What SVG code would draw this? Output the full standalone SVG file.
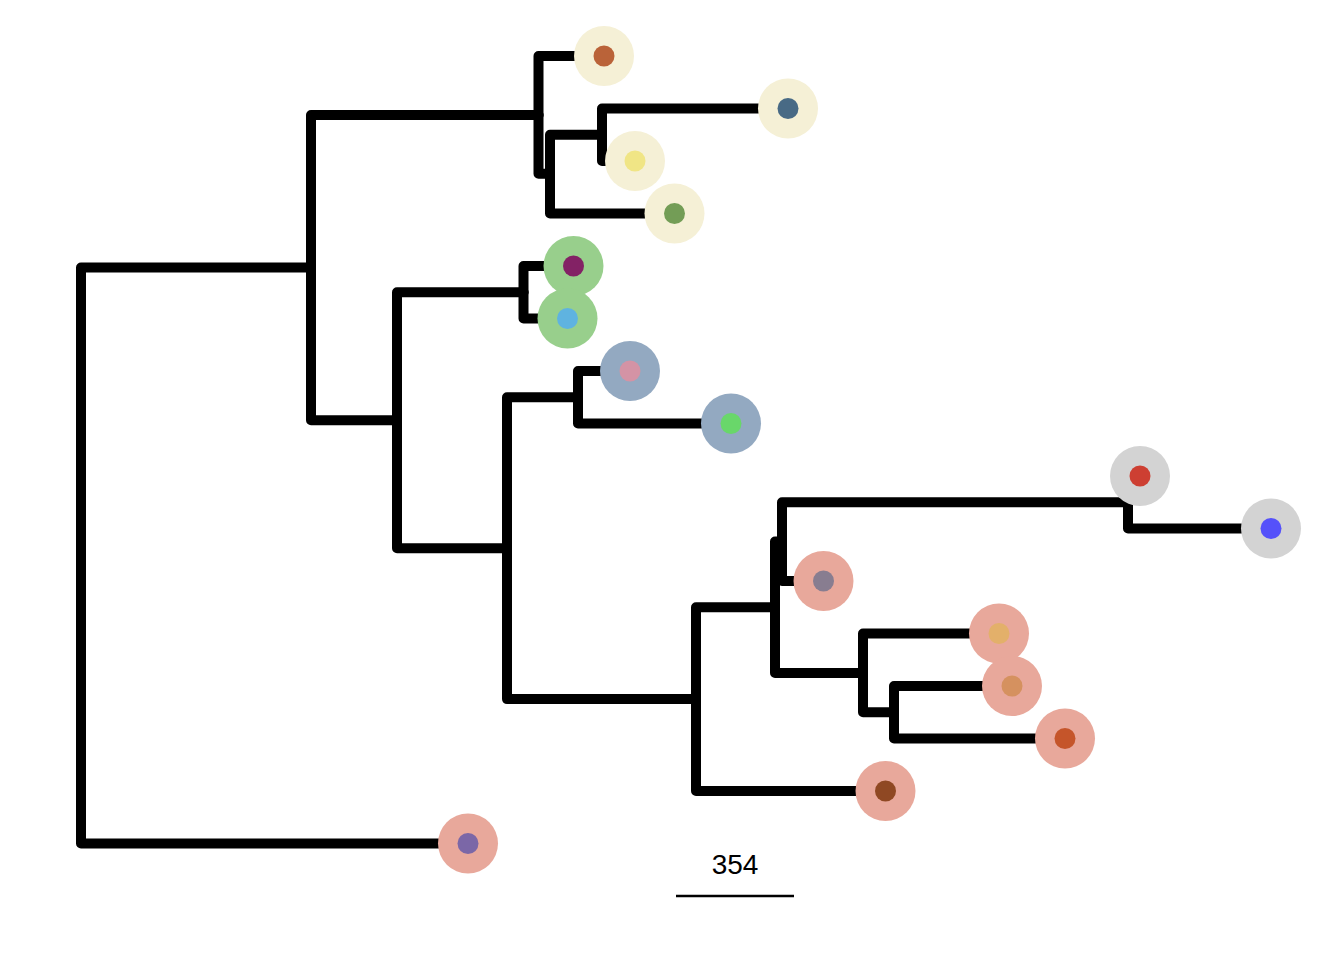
<svg xmlns="http://www.w3.org/2000/svg" width="1344" height="960" viewBox="0 0 1344 960">
<style>
.e{fill:none;stroke:#000;stroke-width:10;stroke-linejoin:round;stroke-linecap:round}
.beige{fill:#F5F0D6}.green{fill:#98CF8C}.blue{fill:#93A9C1}.grey{fill:#D3D3D3}.salmon{fill:#E8A89B}
.lbl{font-family:"Liberation Sans",Arial,sans-serif;font-size:28px;fill:#000}
</style>
<rect width="1344" height="960" fill="#fff"/>
<g id="connectors">
<path class="e" d="M81 555.6V267.6H311"/>
<path class="e" d="M81 555.6V843.5H468"/>
<path class="e" d="M311 267.6V115.1H538.5"/>
<path class="e" d="M311 267.6V420.2H397"/>
<path class="e" d="M538.5 115.1V56H604"/>
<path class="e" d="M538.5 115.1V173.75H550"/>
<path class="e" d="M550 173.75V134.75H602"/>
<path class="e" d="M550 173.75V213.5H674.5"/>
<path class="e" d="M602 134.75V108.5H788"/>
<path class="e" d="M602 134.75V161H635"/>
<path class="e" d="M397 420.2V292.25H523.5"/>
<path class="e" d="M397 420.2V548.2H507"/>
<path class="e" d="M523.5 292.25V266H573.5"/>
<path class="e" d="M523.5 292.25V318.5H567.5"/>
<path class="e" d="M507 548.2V397.25H578"/>
<path class="e" d="M507 548.2V699.1H696"/>
<path class="e" d="M578 397.25V371H630"/>
<path class="e" d="M578 397.25V423.5H731"/>
<path class="e" d="M696 699.1V607.3H775"/>
<path class="e" d="M696 699.1V791H885.5"/>
<path class="e" d="M775 607.3V541.6H782"/>
<path class="e" d="M775 607.3V672.9H863"/>
<path class="e" d="M782 541.6V502.25H1128"/>
<path class="e" d="M782 541.6V581H823.5"/>
<path class="e" d="M1128 502.25V476H1140"/>
<path class="e" d="M1128 502.25V528.5H1271"/>
<path class="e" d="M863 672.9V633.5H999"/>
<path class="e" d="M863 672.9V712.25H894"/>
<path class="e" d="M894 712.25V686H1012"/>
<path class="e" d="M894 712.25V738.5H1065"/>
</g>
<g id="leaf1"><circle class="beige" cx="604" cy="56" r="30"/><circle cx="604" cy="56" r="10.5" fill="#BA6339"/></g>
<g id="leaf2"><circle class="beige" cx="788" cy="108.5" r="30"/><circle cx="788" cy="108.5" r="10.5" fill="#486A85"/></g>
<g id="leaf3"><circle class="beige" cx="635" cy="161" r="30"/><circle cx="635" cy="161" r="10.5" fill="#F0E585"/></g>
<g id="leaf4"><circle class="beige" cx="674.5" cy="213.5" r="30"/><circle cx="674.5" cy="213.5" r="10.5" fill="#739D56"/></g>
<g id="leaf5"><circle class="green" cx="573.5" cy="266" r="30"/><circle cx="573.5" cy="266" r="10.5" fill="#832265"/></g>
<g id="leaf6"><circle class="green" cx="567.5" cy="318.5" r="30"/><circle cx="567.5" cy="318.5" r="10.5" fill="#5FB3E0"/></g>
<g id="leaf7"><circle class="blue" cx="630" cy="371" r="30"/><circle cx="630" cy="371" r="10.5" fill="#D493A5"/></g>
<g id="leaf8"><circle class="blue" cx="731" cy="423.5" r="30"/><circle cx="731" cy="423.5" r="10.5" fill="#69D76A"/></g>
<g id="leaf9"><circle class="grey" cx="1140" cy="476" r="30"/><circle cx="1140" cy="476" r="10.5" fill="#CD3F32"/></g>
<g id="leaf10"><circle class="grey" cx="1271" cy="528.5" r="30"/><circle cx="1271" cy="528.5" r="10.5" fill="#5551FA"/></g>
<g id="leaf11"><circle class="salmon" cx="823.5" cy="581" r="30"/><circle cx="823.5" cy="581" r="10.5" fill="#887D90"/></g>
<g id="leaf12"><circle class="salmon" cx="999" cy="633.5" r="30"/><circle cx="999" cy="633.5" r="10.5" fill="#E3B06A"/></g>
<g id="leaf13"><circle class="salmon" cx="1012" cy="686" r="30"/><circle cx="1012" cy="686" r="10.5" fill="#D5915F"/></g>
<g id="leaf14"><circle class="salmon" cx="1065" cy="738.5" r="30"/><circle cx="1065" cy="738.5" r="10.5" fill="#C5552A"/></g>
<g id="leaf15"><circle class="salmon" cx="885.5" cy="791" r="30"/><circle cx="885.5" cy="791" r="10.5" fill="#8F4823"/></g>
<g id="leaf16"><circle class="salmon" cx="468" cy="843.5" r="30"/><circle cx="468" cy="843.5" r="10.5" fill="#7B67A7"/></g>
<g id="scalebar">
<text class="lbl" x="735" y="874" text-anchor="middle">354</text>
<line x1="676" y1="896" x2="794" y2="896" stroke="#000" stroke-width="2.5"/>
</g>
</svg>
